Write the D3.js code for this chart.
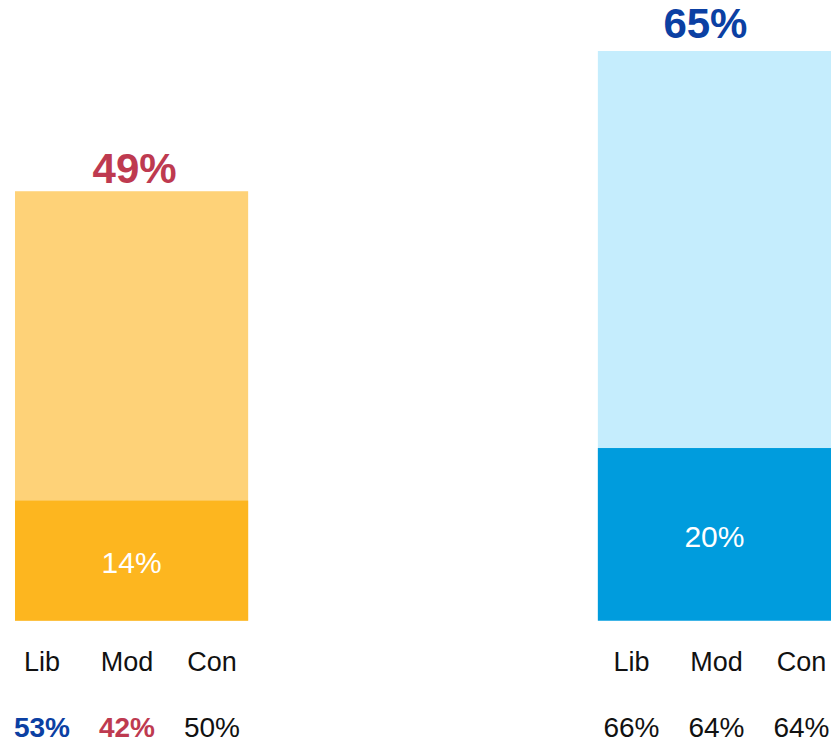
<!DOCTYPE html>
<html>
<head>
<meta charset="utf-8">
<script src="https://cdn.jsdelivr.net/npm/d3@7"></script>
<style>
  html, body { margin: 0; padding: 0; background: #fff; }
  svg { display: block; font-family: "Liberation Sans", Arial, sans-serif; }
</style>
</head>
<body>
<svg id="chart"></svg>
<script>
const w = 833;
const h = 744;

// data
const groups = ["A", "B"];
const totals = [49, 65];
const inner = [13.7, 19.7];
const innerLabels = ["14%", "20%"];
const subCats = ["Lib", "Mod", "Con"];
const subValues = [[53, 42, 50], [66, 64, 64]];

const lightColors = ["#fed278", "#c5edfd"];
const darkColors = ["#fdb61f", "#009cdd"];
const totalColors = ["#be3a50", "#0b40a3"];
const subColors = [["#0b40a3", "#be3a50", "#111"], ["#111", "#111", "#111"]];
const subWeights = [["bold", "bold", "normal"], ["normal", "normal", "normal"]];
const labelShift = [-4.6, 2];
const totalShift = [3, -9];
const totalGap = [8.5, 12.7];

const svg = d3.select("#chart").attr("width", w).attr("height", h);

const x = d3.scaleBand().domain(groups).range([15, 831]).paddingInner(0.6).paddingOuter(0);
const y = d3.scaleLinear().domain([0, 65]).range([620.7, 51]);
const sub = d3.scalePoint().domain(subCats).range([-85, 85]);

const g = svg.selectAll("g.grp")
  .data(groups)
  .enter()
  .append("g")
  .attr("class", "grp");

// total bar
g.append("rect")
  .attr("x", d => x(d))
  .attr("width", x.bandwidth())
  .attr("y", (d, i) => y(totals[i]))
  .attr("height", (d, i) => y(0) - y(totals[i]))
  .style("fill", (d, i) => lightColors[i]);

// inner segment
g.append("rect")
  .attr("x", d => x(d))
  .attr("width", x.bandwidth())
  .attr("y", (d, i) => y(inner[i]))
  .attr("height", (d, i) => y(0) - y(inner[i]))
  .style("fill", (d, i) => darkColors[i]);

// total label
g.append("text")
  .attr("x", (d, i) => x(d) + x.bandwidth() / 2 + totalShift[i])
  .attr("y", (d, i) => y(totals[i]) - totalGap[i])
  .attr("text-anchor", "middle")
  .style("font-size", "42px")
  .style("font-weight", "bold")
  .style("fill", (d, i) => totalColors[i])
  .text((d, i) => totals[i] + "%");

// inner label
g.append("text")
  .attr("x", d => x(d) + x.bandwidth() / 2)
  .attr("y", (d, i) => (y(inner[i]) + y(0)) / 2 + 12.5)
  .attr("text-anchor", "middle")
  .style("font-size", "30px")
  .style("fill", "#fff")
  .text((d, i) => innerLabels[i]);

// sub category names and values
g.each(function(d, i) {
  const cx = x(d) + x.bandwidth() / 2 + labelShift[i];
  const sel = d3.select(this);
  sel.selectAll("text.cat")
    .data(subCats)
    .enter()
    .append("text")
    .attr("class", "cat")
    .attr("x", c => cx + sub(c))
    .attr("y", 670.7)
    .attr("text-anchor", "middle")
    .style("font-size", "27px")
    .style("fill", "#111")
    .text(c => c);
  sel.selectAll("text.val")
    .data(subValues[i])
    .enter()
    .append("text")
    .attr("class", "val")
    .attr("x", (v, j) => cx + sub(subCats[j]))
    .attr("y", 737.3)
    .attr("text-anchor", "middle")
    .style("font-size", "28px")
    .style("font-weight", (v, j) => subWeights[i][j])
    .style("fill", (v, j) => subColors[i][j])
    .text(v => v + "%");
});
</script>
</body>
</html>
